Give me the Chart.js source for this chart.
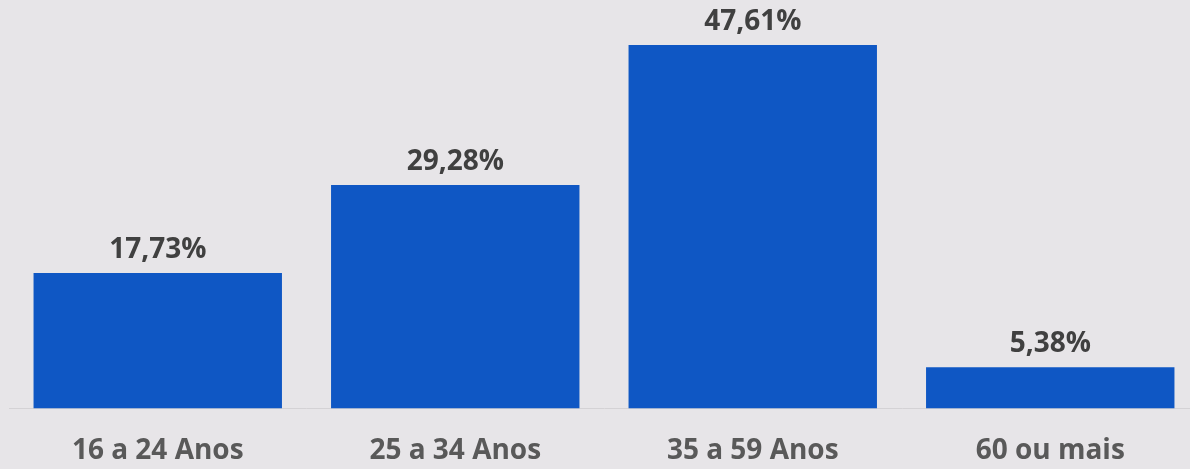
<!DOCTYPE html>
<html lang="pt">
<head>
<meta charset="utf-8">
<title>Faixa etária</title>
<script src="https://cdn.jsdelivr.net/npm/chart.js@4/dist/chart.umd.min.js"></script>
<style>
  html, body { margin: 0; padding: 0; background: #e7e5e8; overflow: hidden; }
  #wrap { width: 1199px; height: 486px; position: relative; }
</style>
</head>
<body>
<div id="wrap"><canvas id="grafico"></canvas></div>
<script>
// faixas etárias e percentuais
const faixas = ["16 a 24 Anos", "25 a 34 Anos", "35 a 59 Anos", "60 ou mais"];
const percentuais = [17.73, 29.28, 47.61, 5.38];

const fmt = v => v.toFixed(2).replace(".", ",") + "%";

// rótulos de valor em cima de cada barra
const rotulos = {
  id: "rotulos",
  afterDatasetsDraw(chart) {
    const ctx = chart.ctx;
    const meta = chart.getDatasetMeta(0);
    ctx.save();
    ctx.font = "bold 28px 'Open Sans'";
    ctx.fillStyle = "#404040";
    ctx.textAlign = "center";
    ctx.textBaseline = "bottom";
    meta.data.forEach((bar, i) => {
      ctx.fillText(fmt(percentuais[i]), bar.x, bar.y - 9);
    });
    ctx.restore();
  }
};

new Chart(document.getElementById("grafico"), {
  type: "bar",
  data: {
    labels: faixas,
    datasets: [{
      data: percentuais,
      backgroundColor: "#0f57c4",
      categoryPercentage: 1,
      barPercentage: 0.835
    }]
  },
  options: {
    responsive: true,
    maintainAspectRatio: false,
    animation: false,
    layout: { padding: { left: 9, right: 0, top: 0, bottom: 0 } },
    plugins: { legend: { display: false }, tooltip: { enabled: false } },
    scales: {
      x: {
        grid: { display: false },
        border: { display: true, color: "#d4d2d5", width: 1 },
        ticks: {
          padding: 18,
          color: "#595959",
          font: { family: "'Open Sans'", size: 28, weight: "bold" }
        }
      },
      y: {
        display: false,
        min: 0,
        max: 53.5
      }
    }
  },
  plugins: [rotulos]
});
</script>
</body>
</html>
